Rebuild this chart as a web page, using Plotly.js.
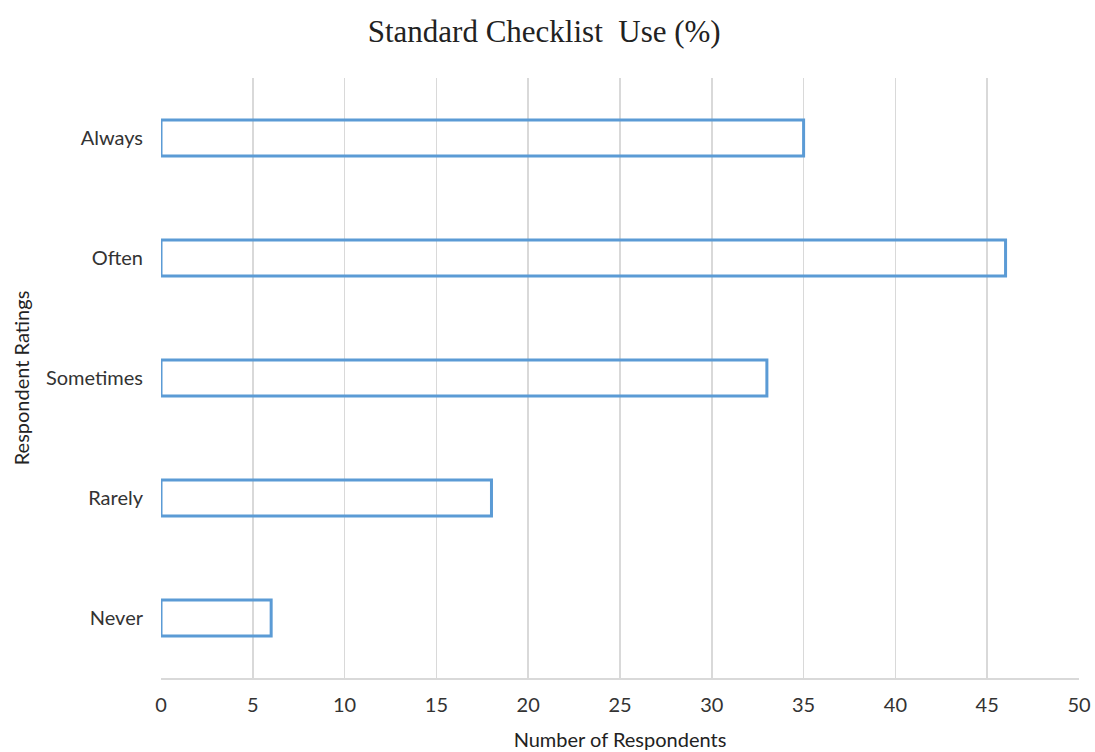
<!DOCTYPE html>
<html><head><meta charset="utf-8">
<script src="https://cdn.plot.ly/plotly-3.0.1.min.js"></script>
<style>html,body{margin:0;padding:0;background:#fff}#chart{width:1095px;height:752px}</style>
</head><body><div id="chart"></div>
<script>
const categories = ['Never', 'Rarely', 'Sometimes', 'Often', 'Always'];
const respondents = [6, 18, 33, 46, 35];
const xTicks = [0, 5, 10, 15, 20, 25, 30, 35, 40, 45, 50];

Plotly.newPlot('chart', [{
  type: 'bar',
  orientation: 'h',
  y: categories,
  x: respondents,
  width: 0.3,
  marker: {color: 'rgba(255,255,255,0)', line: {color: '#5B9BD5', width: 3}},
  hoverinfo: 'x+y'
}], {
  width: 1095, height: 752,
  margin: {l: 161, r: 16, t: 78, b: 74},
  paper_bgcolor: '#fff', plot_bgcolor: '#fff',
  title: {text: 'Standard Checklist  Use (%)', font: {family: 'Liberation Serif', size: 31, color: '#222'}, x: 0.497, xanchor: 'center', y: 0.958, yanchor: 'middle'},
  font: {family: 'Lato, Open Sans, sans-serif', size: 20, color: '#333'},
  xaxis: {
    range: [0, 50], tickvals: xTicks, ticktext: xTicks.map(String),
    showgrid: true, gridcolor: '#d9d9d9', gridwidth: 1.5,
    zeroline: false, showline: true, linecolor: '#d9d9d9', linewidth: 1.5,
    ticks: '', ticklen: 0, tickfont: {size: 20, color: '#333'}, ticklabelstandoff: 8,
    title: {text: 'Number of Respondents', font: {size: 20, color: '#222'}, standoff: 18},
    fixedrange: true
  },
  yaxis: {
    categoryorder: 'array', categoryarray: categories,
    showgrid: false, zeroline: false, showline: false,
    ticks: '', tickfont: {size: 20, color: '#333'}, ticklabelstandoff: 17,
    title: {text: 'Respondent Ratings', font: {size: 20, color: '#222'}, standoff: 10},
    fixedrange: true
  },
  showlegend: false
}, {displayModeBar: false, staticPlot: true});
</script></body></html>
